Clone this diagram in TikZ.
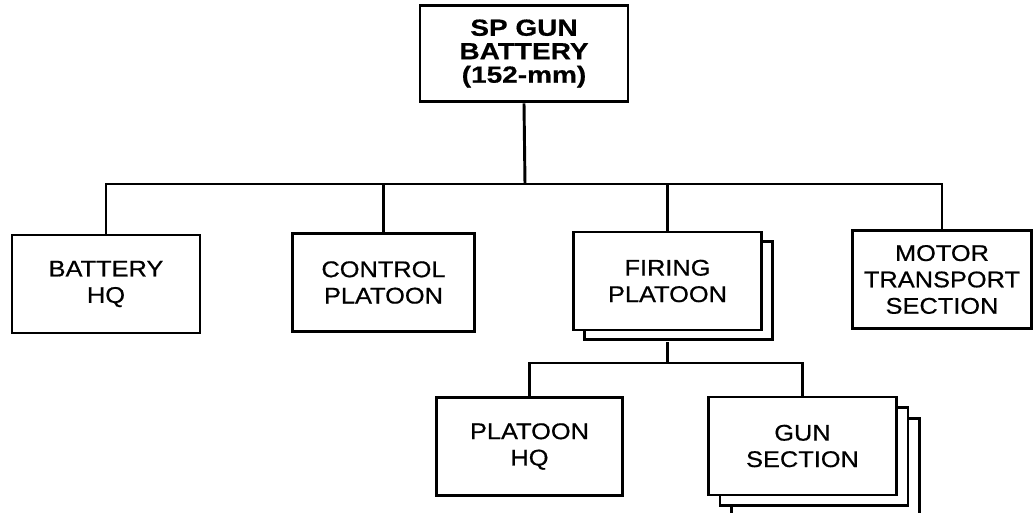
\documentclass[tikz,border=0pt]{standalone}
\usepackage{fontspec}
\setmainfont{Liberation Sans}[FakeStretch=1.12, FakeBold=0.6,
  BoldFeatures={FakeStretch=1.2}]
\usetikzlibrary{shadows,positioning}
\tikzset{
  unit/.style={draw, line width=2.2pt, fill=white, align=center, inner sep=0pt,
    minimum width=141pt, minimum height=73.5pt,
    font=\fontsize{17}{19.8}\selectfont},
  stackone/.style={copy shadow={shadow xshift=8.3pt, shadow yshift=-7.3pt,
    draw, fill=white, line width=2.2pt}},
  stacktwo/.style={double copy shadow={shadow xshift=8.6pt, shadow yshift=-8pt,
    draw, fill=white, line width=2.2pt}},
  link/.style={line width=2.2pt},
}

\begin{document}
\begin{tikzpicture}[x=0.75pt, y=-0.75pt]
            \useasboundingbox (0,0) rectangle (1033,512);
            % Battery and its subunits
            \node[unit, minimum width=156pt, minimum height=72.5pt,
              font=\fontsize{17.5}{17.6}\selectfont\bfseries] (battery) at (524,53.5)
              {SP GUN\\BATTERY\\(152-mm)};
            \node[unit] (bathq) at (106,284) {BATTERY\\HQ};
            \node[unit, minimum width=137pt] (ctrl) at (383.5,282.5) {CONTROL\\PLATOON};
            \node[unit, stackone] (firing) at (667.5,281) {FIRING\\PLATOON};
            \node[unit, minimum width=134pt] (motor) at (942,279.5) {MOTOR\\TRANSPORT\\SECTION};
            % Firing platoon breakdown
            \node[unit, minimum width=140pt] (plthq) at (529.5,446.5) {PLATOON\\HQ};
            \node[unit, stacktwo] (gunsec) at (802.5,446) {GUN\\SECTION};
            % Connecting lines
            \coordinate (bus) at (525,184);
            \coordinate (firebus) at (667.5,363);
            \coordinate (firelow) at ([yshift=-8pt]firing.south);
            \draw[link] (battery.south) -- (bus);
            \draw[link] (bathq.north) |- (bus) -| (motor.north);
            \draw[link] (ctrl.north) -- (ctrl.north |- bus);
            \draw[link] (firing.north) -- (firing.north |- bus);
            \draw[link] (firelow) -- (firebus);
            \draw[link] (plthq.north) |- (firebus) -| (gunsec.north);
          \end{tikzpicture}
\end{document}
